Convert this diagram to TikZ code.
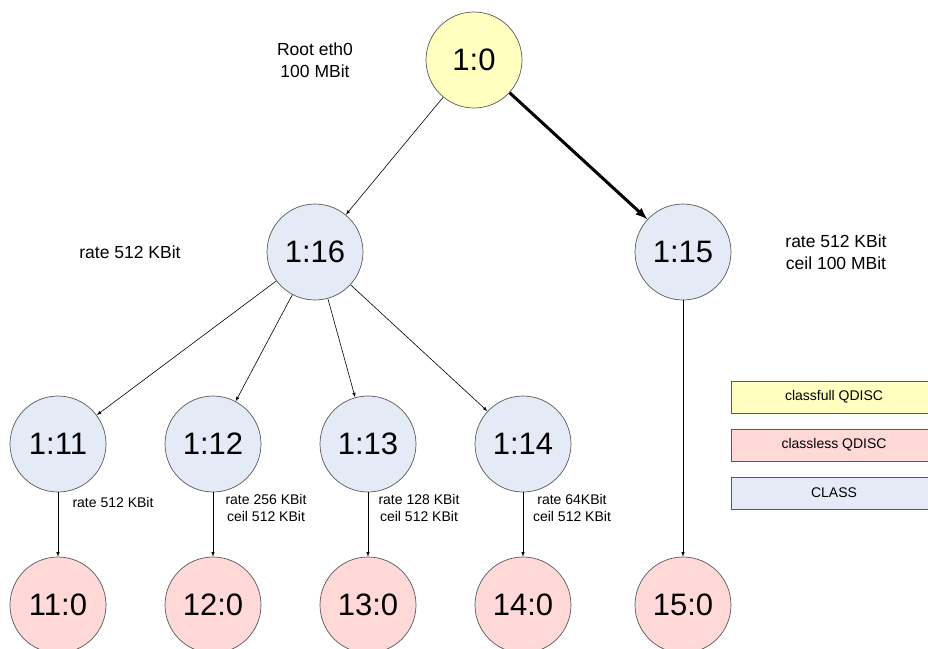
\documentclass[tikz,border=0pt]{standalone}
\usepackage{fontspec}
\setmainfont{Liberation Sans}
\usetikzlibrary{arrows}
\definecolor{qfull}{RGB}{255,255,192}
\definecolor{qless}{RGB}{255,216,216}
\definecolor{qclass}{RGB}{228,235,247}

\begin{document}
\begin{tikzpicture}
  [x=1pt, y=-1pt,
   disc/.style={circle, draw=black!65, line width=0.7pt, minimum size=96pt,
     inner sep=0pt, font=\fontsize{31}{31}\selectfont},
   edge/.style={-latex, line width=0.6pt},
   biglbl/.style={align=center, font=\fontsize{17.5}{22}\selectfont},
   smalllbl/.style={align=center, font=\fontsize{14}{17}\selectfont},
   legend/.style={draw=black!65, line width=0.8pt, minimum width=206pt,
     minimum height=32pt, font=\fontsize{14}{14}\selectfont}]
  \clip (0,0) rectangle (928,648);
  % qdiscs and classes
  \node[disc, fill=qfull] (root) at (474,60) {1:0};
  \node[disc, fill=qclass] (c16) at (315,252) {1:16};
  \node[disc, fill=qclass] (c15) at (683,252) {1:15};
  \foreach \n/\x in {11/58,12/213,13/368,14/523} {
      \node[disc, fill=qclass] (c\n) at (\x,444) {1:\n};
      \node[disc, fill=qless] (q\n) at (\x,605) {\n:0};
  }
  \node[disc, fill=qless] (q15) at (683,605) {15:0};
  % edges
  \draw[edge] (root) -- (c16);
  \draw[edge, line width=3pt] (root) -- (c15);
  \foreach \n in {11,...,14} {
      \draw[edge] (c16) -- (c\n);
      \draw[edge] (c\n) -- (q\n);
  }
  \draw[edge] (c15) -- (q15);
  % rates
  \node[biglbl] (lroot) at (315,60) {Root eth0\\100 MBit};
  \node[biglbl] (l16) at (130,252) {rate 512 KBit};
  \node[biglbl] (l15) at (836,252) {rate 512 KBit\\ceil 100 MBit};
  \node[smalllbl] (l11) at (113,502) {rate 512 KBit};
  \node[smalllbl] (l12) at (266,508) {rate 256 KBit\\ceil 512 KBit};
  \node[smalllbl] (l13) at (419,508) {rate 128 KBit\\ceil 512 KBit};
  \node[smalllbl] (l14) at (572,508) {rate 64KBit\\ceil 512 KBit};
  % legend
  \node[legend, fill=qfull] (kfull) at (834,397) {classfull QDISC};
  \node[legend, fill=qless] (kless) at (834,445) {classless QDISC};
  \node[legend, fill=qclass] (kclass) at (834,493) {CLASS};
\end{tikzpicture}
\end{document}
